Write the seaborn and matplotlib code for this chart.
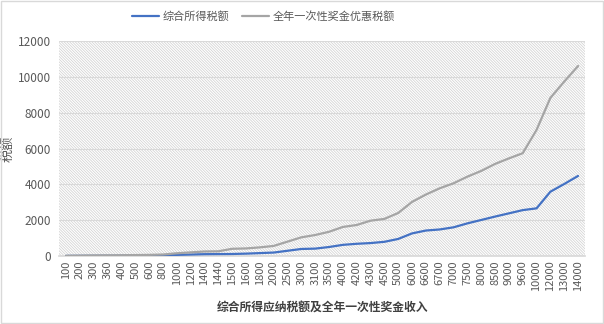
import matplotlib
matplotlib.use("Agg")
import matplotlib.pyplot as plt
import seaborn as sns
import pandas as pd
from matplotlib.patches import Rectangle

income = ["100", "200", "300", "360", "400", "500", "600", "800", "1000", "1200",
          "1400", "1440", "1500", "1600", "1800", "2000", "2500", "3000", "3100", "3500",
          "4000", "4200", "4300", "4500", "5000", "6000", "6600", "6700", "7000", "7500",
          "8000", "8500", "9000", "9600", "10000", "12000", "13000", "14000"]
tax_comprehensive = [3, 6, 9, 11, 14, 20, 30, 45, 60, 80,
                     100, 105, 110, 130, 160, 190, 290, 390, 410, 500,
                     620, 680, 720, 790, 950, 1260, 1420, 1480, 1600, 1820,
                     2010, 2200, 2380, 2560, 2660, 3590, 4020, 4470]
tax_bonus = [10, 20, 30, 36, 40, 50, 60, 80, 150, 200,
             250, 260, 400, 420, 480, 560, 800, 1040, 1170, 1350,
             1620, 1730, 1970, 2070, 2400, 3020, 3430, 3780, 4060, 4430,
             4750, 5140, 5450, 5740, 7040, 8830, 9740, 10610]
series_names = ["综合所得税额", "全年一次性奖金优惠税额"]
x_title = "综合所得应纳税额及全年一次性奖金收入"
y_title = "税额"

df = pd.concat([
    pd.DataFrame({"income": income, "tax": tax_comprehensive, "series": series_names[0]}),
    pd.DataFrame({"income": income, "tax": tax_bonus, "series": series_names[1]}),
])

sns.set_theme(style="white")
plt.rcParams['font.family'] = ['Noto Sans CJK SC', 'DejaVu Sans']
plt.rcParams['hatch.color'] = '#d2d2d2'
plt.rcParams['hatch.linewidth'] = 0.55

fig = plt.figure(figsize=(6.04, 3.24), dpi=100)
ax = fig.add_axes([0.098, 0.21, 0.8705, 0.663])

bg = Rectangle((0, 0), 1, 1, transform=ax.transAxes, facecolor='white',
               edgecolor='#d2d2d2', linewidth=0, hatch='\\' * 12, zorder=0)
ax.add_patch(bg)

sns.lineplot(data=df, x="income", y="tax", hue="series", sort=False,
             palette={series_names[0]: "#4472C4", series_names[1]: "#A5A5A5"},
             linewidth=1.6, ax=ax, zorder=3)

ax.set_xlim(-0.5, len(income) - 0.5)
ax.set_ylim(0, 12000)
ax.set_yticks(range(0, 12001, 2000))
ax.yaxis.grid(True, color='#d9d9d9', linewidth=0.8, zorder=1)
ax.set_axisbelow(True)
for s in ['top', 'right', 'left']:
    ax.spines[s].set_visible(False)
ax.spines['bottom'].set_color('#d9d9d9')
ax.tick_params(axis='x', labelrotation=90, labelsize=8, colors='#595959', length=0, pad=3)
ax.tick_params(axis='y', labelsize=8.5, colors='#595959', length=0, pad=6)
ax.set_xlabel(x_title, fontsize=8.5, fontweight='bold', color='#404040', labelpad=7)
ax.set_ylabel(y_title, fontsize=9.5, color='#595959', labelpad=2)

leg = ax.legend(loc='center', bbox_to_anchor=(0.436, 0.948), bbox_transform=fig.transFigure,
                ncol=2, frameon=False, fontsize=8, handlelength=2.4, columnspacing=1.2,
                handletextpad=0.3)
for t in leg.get_texts():
    t.set_color('#595959')

fig.patches.append(Rectangle((0.002, 0.003), 0.996, 0.994, transform=fig.transFigure,
                             fill=False, edgecolor='#d9d9d9', linewidth=1.0))

fig.savefig("out.png", dpi=100)
